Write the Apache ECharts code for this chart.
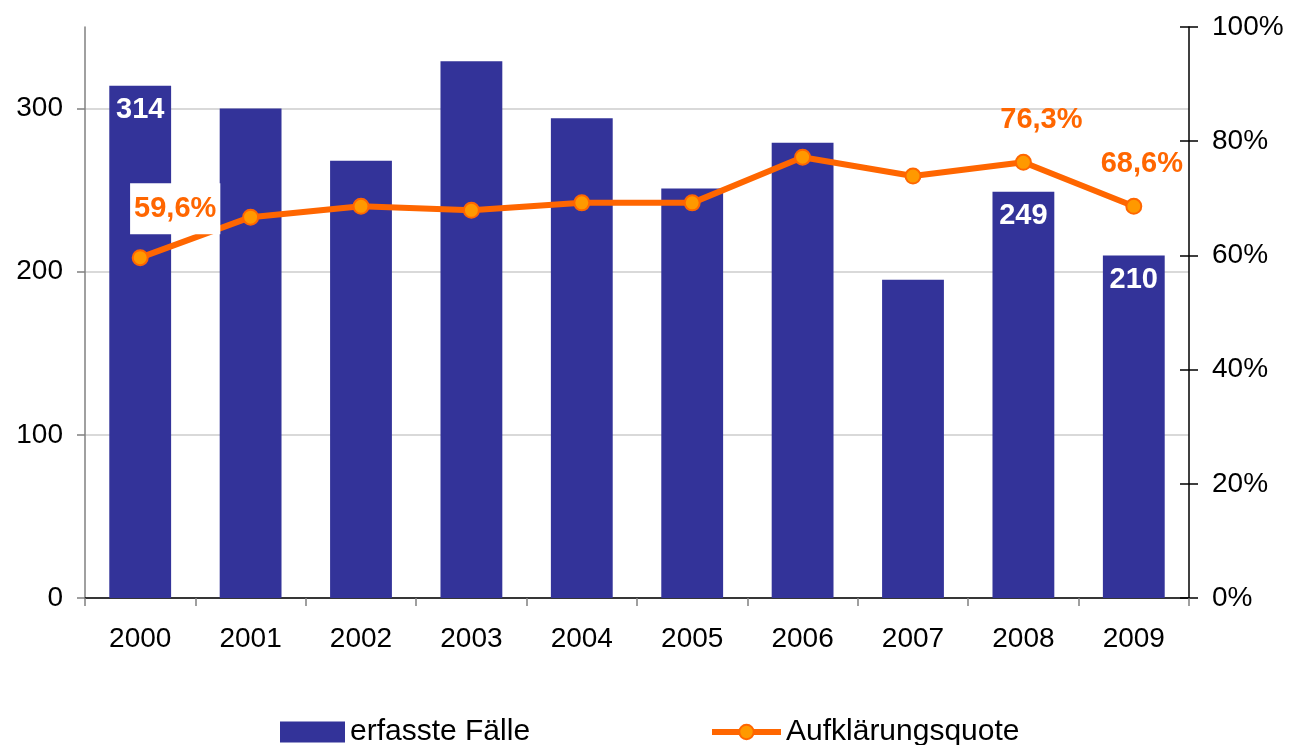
<!DOCTYPE html>
<html>
<head>
<meta charset="utf-8">
<script src="https://cdn.jsdelivr.net/npm/echarts@6/dist/echarts.min.js"></script>
<style>
  html, body { margin: 0; padding: 0; background: #fff; }
  #chart { width: 1290px; height: 745px; }
</style>
</head>
<body>
<div id="chart"></div>
<script>
// Daten
const years = ['2000', '2001', '2002', '2003', '2004', '2005', '2006', '2007', '2008', '2009'];
const faelle = [314, 300, 268, 329, 294, 251, 279, 195, 249, 210];
const quote = [59.6, 66.7, 68.6, 67.9, 69.2, 69.2, 77.2, 73.9, 76.3, 68.6];
const leftTicks = [0, 100, 200, 300];

const font = 'Liberation Sans, Arial, sans-serif';

// nur einzelne Werte beschriften
const barData = faelle.map((v, i) => {
  const show = i === 0 || i === 8 || i === 9;
  return { value: v, label: { show: show } };
});
const lineData = quote.map((v, i) => {
  if (i === 0) {
    return { value: v, label: { show: true, backgroundColor: '#fff', padding: [11, 4], distance: 15, offset: [35, 0] } };
  }
  if (i === 8) return { value: v, label: { show: true, offset: [18, 0] } };
  if (i === 9) return { value: v, label: { show: true, offset: [8, 0] } };
  return { value: v };
});

const chart = echarts.init(document.getElementById('chart'));
const option = {
  animation: false,
  textStyle: { fontFamily: font },
  grid: { left: 85, right: 101, top: 27, bottom: 147 },
  legend: [
    {
      data: [{ name: 'erfasste Fälle', icon: 'rect' }],
      left: 275, top: 712,
      itemWidth: 65, itemHeight: 21,
      textStyle: { fontSize: 30, color: '#000', fontFamily: font },
      itemGap: 0
    },
    {
      data: ['Aufklärungsquote'],
      left: 704, top: 712,
      itemWidth: 69, itemHeight: 18,
      lineStyle: { width: 6, color: '#FF6600' },
      textStyle: { fontSize: 30, color: '#000', fontFamily: font }
    }
  ],
  xAxis: {
    type: 'category',
    data: years,
    axisLine: { lineStyle: { color: '#000', width: 1.5 } },
    axisTick: { show: true, length: 8, lineStyle: { color: '#808080', width: 1.5 } },
    axisLabel: { color: '#000', fontSize: 28, margin: 27, fontFamily: font }
  },
  yAxis: [
    {
      type: 'value',
      min: 0, max: 350,
      axisLine: { show: true, lineStyle: { color: '#808080', width: 1.5 } },
      axisTick: { show: true, length: 8, customValues: leftTicks, lineStyle: { color: '#808080', width: 1.5 } },
      axisLabel: { customValues: leftTicks, color: '#000', fontSize: 28, margin: 22, fontFamily: font },
      splitLine: { show: true, lineStyle: { color: '#D9D9D9', width: 2 } }
    },
    {
      type: 'value',
      min: 0, max: 100, interval: 20,
      position: 'right',
      axisLine: { show: true, lineStyle: { color: '#000', width: 1.5 } },
      axisTick: { show: true, length: 9, lineStyle: { color: '#000', width: 1.5 } },
      axisLabel: { color: '#000', fontSize: 28, margin: 23, formatter: '{value}%', fontFamily: font },
      splitLine: { show: false }
    },
    {
      // Innenstriche der rechten Achse
      type: 'value',
      min: 0, max: 100, interval: 20,
      position: 'right',
      axisLine: { show: false },
      axisTick: { show: true, inside: true, length: 9, lineStyle: { color: '#000', width: 1.5 } },
      axisLabel: { show: false },
      splitLine: { show: false }
    }
  ],
  series: [
    {
      name: 'erfasste Fälle',
      type: 'bar',
      data: barData,
      barCategoryGap: '44%',
      itemStyle: { color: '#333399' },
      label: {
        position: 'insideTop',
        distance: 10,
        color: '#fff',
        fontWeight: 'bold',
        fontSize: 29,
        fontFamily: font
      }
    },
    {
      name: 'Aufklärungsquote',
      type: 'line',
      yAxisIndex: 1,
      data: lineData,
      symbol: 'circle',
      symbolSize: 15,
      lineStyle: { color: '#FF6600', width: 6 },
      itemStyle: { color: '#FF9900', borderColor: '#FF6600', borderWidth: 2 },
      label: {
        show: false,
        position: 'top',
        distance: 19,
        color: '#FF6600',
        fontWeight: 'bold',
        fontSize: 29,
        fontFamily: font,
        formatter: p => p.value.toFixed(1).replace('.', ',') + '%'
      },
      z: 3
    }
  ]
};
chart.setOption(option);
</script>
</body>
</html>
